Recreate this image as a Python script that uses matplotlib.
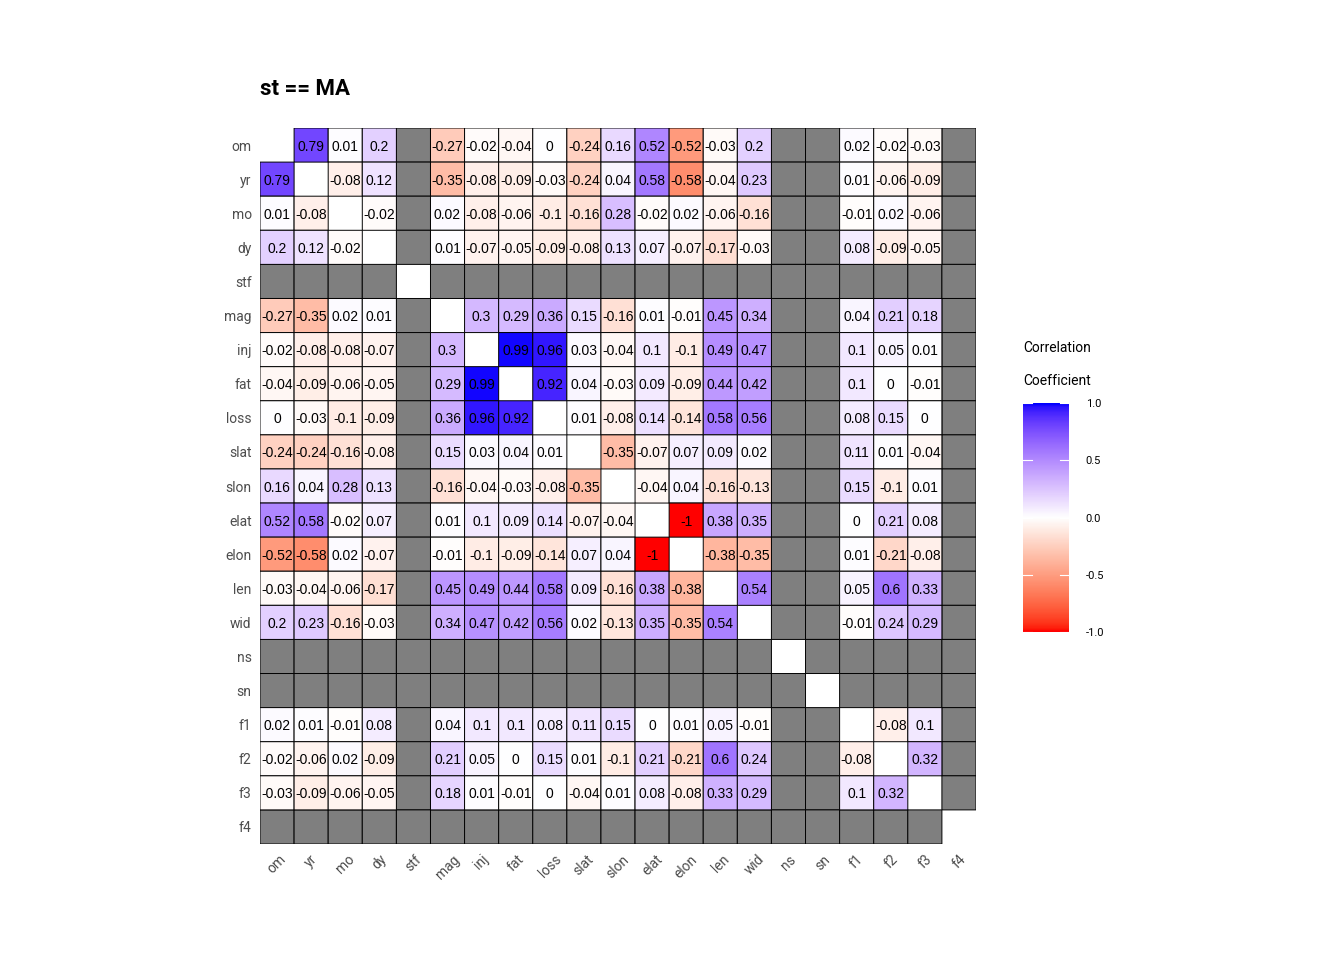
import numpy as np
import matplotlib
matplotlib.use("Agg")
import matplotlib.pyplot as plt
from matplotlib.colors import ListedColormap

NA = np.nan
variables = ["om", "yr", "mo", "dy", "stf", "mag", "inj", "fat", "loss", "slat",
             "slon", "elat", "elon", "len", "wid", "ns", "sn", "f1", "f2", "f3", "f4"]

r_om   = [NA, 0.79, 0.01, 0.2, NA, -0.27, -0.02, -0.04, 0, -0.24, 0.16, 0.52, -0.52, -0.03, 0.2, NA, NA, 0.02, -0.02, -0.03, NA]
r_yr   = [0.79, NA, -0.08, 0.12, NA, -0.35, -0.08, -0.09, -0.03, -0.24, 0.04, 0.58, -0.58, -0.04, 0.23, NA, NA, 0.01, -0.06, -0.09, NA]
r_mo   = [0.01, -0.08, NA, -0.02, NA, 0.02, -0.08, -0.06, -0.1, -0.16, 0.28, -0.02, 0.02, -0.06, -0.16, NA, NA, -0.01, 0.02, -0.06, NA]
r_dy   = [0.2, 0.12, -0.02, NA, NA, 0.01, -0.07, -0.05, -0.09, -0.08, 0.13, 0.07, -0.07, -0.17, -0.03, NA, NA, 0.08, -0.09, -0.05, NA]
r_stf  = [NA] * 21
r_mag  = [-0.27, -0.35, 0.02, 0.01, NA, NA, 0.3, 0.29, 0.36, 0.15, -0.16, 0.01, -0.01, 0.45, 0.34, NA, NA, 0.04, 0.21, 0.18, NA]
r_inj  = [-0.02, -0.08, -0.08, -0.07, NA, 0.3, NA, 0.99, 0.96, 0.03, -0.04, 0.1, -0.1, 0.49, 0.47, NA, NA, 0.1, 0.05, 0.01, NA]
r_fat  = [-0.04, -0.09, -0.06, -0.05, NA, 0.29, 0.99, NA, 0.92, 0.04, -0.03, 0.09, -0.09, 0.44, 0.42, NA, NA, 0.1, 0, -0.01, NA]
r_loss = [0, -0.03, -0.1, -0.09, NA, 0.36, 0.96, 0.92, NA, 0.01, -0.08, 0.14, -0.14, 0.58, 0.56, NA, NA, 0.08, 0.15, 0, NA]
r_slat = [-0.24, -0.24, -0.16, -0.08, NA, 0.15, 0.03, 0.04, 0.01, NA, -0.35, -0.07, 0.07, 0.09, 0.02, NA, NA, 0.11, 0.01, -0.04, NA]
r_slon = [0.16, 0.04, 0.28, 0.13, NA, -0.16, -0.04, -0.03, -0.08, -0.35, NA, -0.04, 0.04, -0.16, -0.13, NA, NA, 0.15, -0.1, 0.01, NA]
r_elat = [0.52, 0.58, -0.02, 0.07, NA, 0.01, 0.1, 0.09, 0.14, -0.07, -0.04, NA, -1, 0.38, 0.35, NA, NA, 0, 0.21, 0.08, NA]
r_elon = [-0.52, -0.58, 0.02, -0.07, NA, -0.01, -0.1, -0.09, -0.14, 0.07, 0.04, -1, NA, -0.38, -0.35, NA, NA, 0.01, -0.21, -0.08, NA]
r_len  = [-0.03, -0.04, -0.06, -0.17, NA, 0.45, 0.49, 0.44, 0.58, 0.09, -0.16, 0.38, -0.38, NA, 0.54, NA, NA, 0.05, 0.6, 0.33, NA]
r_wid  = [0.2, 0.23, -0.16, -0.03, NA, 0.34, 0.47, 0.42, 0.56, 0.02, -0.13, 0.35, -0.35, 0.54, NA, NA, NA, -0.01, 0.24, 0.29, NA]
r_ns   = [NA] * 21
r_sn   = [NA] * 21
r_f1   = [0.02, 0.01, -0.01, 0.08, NA, 0.04, 0.1, 0.1, 0.08, 0.11, 0.15, 0, 0.01, 0.05, -0.01, NA, NA, NA, -0.08, 0.1, NA]
r_f2   = [-0.02, -0.06, 0.02, -0.09, NA, 0.21, 0.05, 0, 0.15, 0.01, -0.1, 0.21, -0.21, 0.6, 0.24, NA, NA, -0.08, NA, 0.32, NA]
r_f3   = [-0.03, -0.09, -0.06, -0.05, NA, 0.18, 0.01, -0.01, 0, -0.04, 0.01, 0.08, -0.08, 0.33, 0.29, NA, NA, 0.1, 0.32, NA, NA]
r_f4   = [NA] * 21

title = "st == MA"
legend_title = ["Correlation", "Coefficient"]
legend_ticks = [-1.0, -0.5, 0.0, 0.5, 1.0]

M = np.array([r_om, r_yr, r_mo, r_dy, r_stf, r_mag, r_inj, r_fat, r_loss, r_slat,
              r_slon, r_elat, r_elon, r_len, r_wid, r_ns, r_sn, r_f1, r_f2, r_f3, r_f4], dtype=float)
n = len(variables)

# ---- Lab-interpolated diverging palette (red - white - blue) ----
def srgb_to_lab(rgb):
    rgb = np.asarray(rgb, float)
    lin = np.where(rgb <= 0.04045, rgb / 12.92, ((rgb + 0.055) / 1.055) ** 2.4)
    m = np.array([[0.4124564, 0.3575761, 0.1804375],
                  [0.2126729, 0.7151522, 0.0721750],
                  [0.0193339, 0.1191920, 0.9503041]])
    xyz = m @ lin
    wp = np.array([0.95047, 1.0, 1.08883])
    t = xyz / wp
    d = 6 / 29
    f = np.where(t > d ** 3, np.cbrt(t), t / (3 * d * d) + 4 / 29)
    return np.array([116 * f[1] - 16, 500 * (f[0] - f[1]), 200 * (f[1] - f[2])])

def lab_to_srgb(lab):
    L, a, b = lab
    fy = (L + 16) / 116
    fx = fy + a / 500
    fz = fy - b / 200
    d = 6 / 29
    def finv(f):
        return f ** 3 if f > d else 3 * d * d * (f - 4 / 29)
    wp = np.array([0.95047, 1.0, 1.08883])
    xyz = np.array([finv(fx), finv(fy), finv(fz)]) * wp
    minv = np.array([[3.2404542, -1.5371385, -0.4985314],
                     [-0.9692660, 1.8760108, 0.0415560],
                     [0.0556434, -0.2040259, 1.0572252]])
    lin = minv @ xyz
    lin = np.clip(lin, 0, 1)
    rgb = np.where(lin <= 0.0031308, 12.92 * lin, 1.055 * lin ** (1 / 2.4) - 0.055)
    return np.clip(rgb, 0, 1)

lab_r = srgb_to_lab([1, 0, 0])
lab_w = srgb_to_lab([1, 1, 1])
lab_b = srgb_to_lab([0, 0, 1])
cols = []
N = 256
for k in range(N):
    t = k / (N - 1) * 2 - 1
    if t < 0:
        lab = lab_w + (lab_r - lab_w) * (-t)
    else:
        lab = lab_w + (lab_b - lab_w) * t
    cols.append(lab_to_srgb(lab))
cmap = ListedColormap(cols)

fig = plt.figure(figsize=(13.44, 9.6), dpi=100)
ax = fig.add_axes([260 / 1344, 1 - 844 / 960, 716 / 1344, 716 / 960])

diag = np.eye(n, dtype=bool)
vals = np.ma.masked_where(np.isnan(M) | diag, M)
nas = np.ma.masked_where(~(np.isnan(M) & ~diag), np.ones_like(M))

edges = np.arange(n + 1)
ax.pcolor(edges, edges, nas, cmap=ListedColormap(["#7f7f7f"]), vmin=0, vmax=2,
          edgecolors="black", linewidth=0.7)
ax.pcolor(edges, edges, vals, cmap=cmap, vmin=-1, vmax=1,
          edgecolors="black", linewidth=0.7)

for i in range(n):
    for j in range(n):
        v = M[i, j]
        if i != j and not np.isnan(v):
            ax.text(j + 0.5, i + 0.5, "{:g}".format(v), ha="center", va="center_baseline",
                    fontsize=10, family="Liberation Sans", color="black")

ax.set_xlim(0, n)
ax.set_ylim(n, 0)
ax.set_xticks(np.arange(n) + 0.5)
ax.set_yticks(np.arange(n) + 0.5)
ax.set_xticklabels(variables, rotation=45, ha="center", va="top", fontsize=10,
                   color="#4d4d4d", family="Roboto")
ax.set_yticklabels(variables, fontsize=10, color="#4d4d4d", family="Roboto")
ax.tick_params(length=0, pad=6)
for s in ax.spines.values():
    s.set_visible(False)

fig.text(260 / 1344, 1 - 89 / 960, title, fontsize=16, fontweight="bold",
         family="Roboto", ha="left", va="center")

# ---- colourbar ----
cax = fig.add_axes([1023 / 1344, 1 - 632 / 960, 46 / 1344, 229 / 960])
grad = np.linspace(-1, 1, 300).reshape(-1, 1)
cax.imshow(grad, cmap=cmap, vmin=-1, vmax=1, origin="lower", aspect="auto",
           extent=[0, 1, -1, 1])
cax.set_xlim(0, 1)
cax.set_ylim(-1, 1)
cax.set_xticks([])
cax.yaxis.tick_right()
cax.set_yticks(legend_ticks)
cax.set_yticklabels(["{:.1f}".format(t) for t in legend_ticks], fontsize=8,
                    family="Roboto", color="black")
cax.tick_params(length=0, pad=12)
for t in legend_ticks:
    cax.plot([0, 0.2], [t, t], color="white", lw=0.8)
    cax.plot([0.8, 1], [t, t], color="white", lw=0.8)
for s in cax.spines.values():
    s.set_visible(False)

fig.text(1023 / 1344, 1 - 348 / 960, legend_title[0], fontsize=10, family="Roboto",
         ha="left", va="center")
fig.text(1023 / 1344, 1 - 381 / 960, legend_title[1], fontsize=10, family="Roboto",
         ha="left", va="center")

fig.savefig("out.png", dpi=100)
